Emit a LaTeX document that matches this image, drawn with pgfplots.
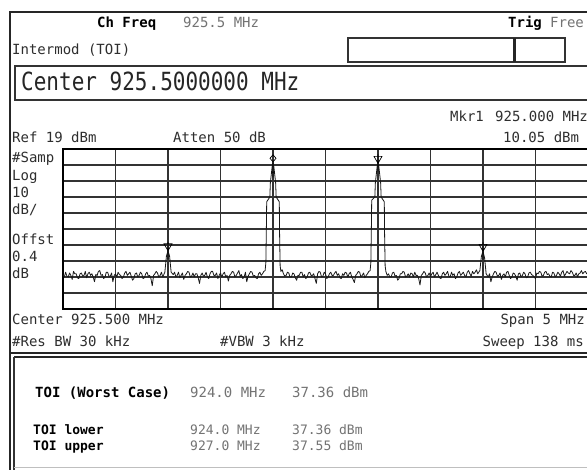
\documentclass[border=0pt]{standalone}
\usepackage{fontspec}
\setmainfont{DejaVu Sans Mono}
\newfontfamily\bigf[FakeStretch=0.84]{DejaVu Sans Mono}
\usepackage{pgfplots}
\pgfplotsset{compat=1.18}
\definecolor{txt}{gray}{0.18}
\definecolor{ltxt}{gray}{0.45}
\newcommand\sm{\fontsize{14}{16}\selectfont}
\newcommand\T[4][]{\node[anchor=base west,inner sep=0pt,font=\sm,text=txt,#1] at ({#2pt},{(465-#3)*1pt}) {#4};}
\newcommand\TR[4][]{\node[anchor=base east,inner sep=0pt,font=\sm,text=txt,#1] at ({#2pt},{(465-#3)*1pt}) {#4};}
\pgfdeclareplotmark{dmark}{%
 \pgfpathmoveto{\pgfqpoint{0pt}{8.5pt}}\pgfpathlineto{\pgfqpoint{3pt}{5pt}}%
 \pgfpathlineto{\pgfqpoint{0pt}{1.5pt}}\pgfpathlineto{\pgfqpoint{-3pt}{5pt}}\pgfpathclose
 \pgfpathmoveto{\pgfqpoint{0pt}{1.5pt}}\pgfpathlineto{\pgfqpoint{0pt}{-14pt}}%
 \pgfpathmoveto{\pgfqpoint{-1.5pt}{-9pt}}\pgfpathlineto{\pgfqpoint{1.5pt}{-9pt}}%
 \pgfusepathqstroke}
\pgfdeclareplotmark{vmark}{%
 \pgfpathmoveto{\pgfqpoint{-4pt}{7pt}}\pgfpathlineto{\pgfqpoint{4pt}{7pt}}%
 \pgfpathlineto{\pgfqpoint{0pt}{0pt}}\pgfpathclose
 \pgfpathmoveto{\pgfqpoint{0pt}{9pt}}\pgfpathlineto{\pgfqpoint{0pt}{-8pt}}%
 \pgfusepathqstroke}
\begin{document}
\begin{tikzpicture}
\useasboundingbox (0pt,0pt) rectangle (587pt,470pt);
\clip (0pt,0pt) rectangle (587pt,470pt);
\fill[white] (0pt,0pt) rectangle (587pt,470pt);
% frame lines
\draw[line width=2.5pt,black!85] (10pt,-2pt) -- (10pt,458pt) -- (600pt,458pt);
\draw[line width=1.5pt,black!80] (348pt,408pt) rectangle (565pt,432pt);
\draw[line width=3pt,black!85] (514pt,408pt) -- (514pt,432pt);
\draw[line width=2pt,black!80] (600pt,404pt) -- (15pt,404pt) -- (15pt,370pt) -- (600pt,370pt);
\draw[line width=1.6pt,black!85] (9pt,117pt) -- (600pt,117pt);
\draw[line width=1.6pt,black!85] (14pt,113pt) -- (600pt,113pt);
\draw[line width=2pt,black!80] (14pt,113pt) -- (14pt,-2pt);
\draw[line width=0.6pt,black!25] (14pt,3pt) -- (600pt,3pt);
% header texts
\T[font=\sm\bfseries,text=black]{97}{23}{Ch Freq}
\T[text=ltxt]{183}{23}{925.5 MHz}
\T[font=\sm\bfseries,text=black]{508}{23}{Trig}
\T[text=ltxt]{550}{23}{Free}
\T{12}{50}{Intermod (TOI)}
\node[anchor=base west,inner sep=0pt,font=\bigf\fontsize{25}{28}\selectfont,text=black!85] at (21pt,379pt) {Center 925.5000000 MHz};
\T{450}{117}{Mkr1}
\T{495}{117}{925.000 MHz}
\T{503}{138}{10.05 dBm}
\T{12}{138}{Ref 19 dBm}
\T{173}{138}{Atten 50 dB}
\T{12}{158}{\#Samp}
\T{12}{176}{Log}
\T{12}{193}{10}
\T{12}{210}{dB/}
\T{12}{240}{Offst}
\T{12}{257}{0.4}
\T{12}{274}{dB}
\T{12}{320}{Center 925.500 MHz}
\TR{585}{320}{Span 5 MHz}
\T{12}{342}{\#Res BW 30 kHz}
\T{220}{342}{\#VBW 3 kHz}
\TR{584}{342}{Sweep 138 ms}
\T[font=\sm\bfseries,text=black]{35}{393}{TOI (Worst Case)}
\T[text=ltxt]{190}{393}{924.0 MHz}
\T[text=ltxt]{292}{393}{37.36 dBm}
\T[font=\fontsize{13}{15}\selectfont\bfseries,text=black]{33}{430}{TOI lower}
\T[font=\fontsize{13}{15}\selectfont\bfseries,text=black]{33}{446}{TOI upper}
\T[font=\fontsize{13}{15}\selectfont,text=ltxt]{190}{430}{924.0 MHz}
\T[font=\fontsize{13}{15}\selectfont,text=ltxt]{190}{446}{927.0 MHz}
\T[font=\fontsize{13}{15}\selectfont,text=ltxt]{292}{430}{37.36 dBm}
\T[font=\fontsize{13}{15}\selectfont,text=ltxt]{292}{446}{37.55 dBm}
\begin{axis}[at={(63pt,161pt)}, anchor=south west, scale only axis,
  width=525pt, height=160pt,
  xmin=923, xmax=928, ymin=-81, ymax=19,
  xtick={923,923.5,924,924.5,925,925.5,926,926.5,927,927.5,928},
  ytick={-81,-71,-61,-51,-41,-31,-21,-11,-1,9,19},
  xticklabels={}, yticklabels={}, major tick length=0pt,
  grid=major, major grid style={black!80, line width=1.2pt},
  axis line style={black, line width=1.6pt}, clip=true]
\addplot[black!90, line width=0.8pt, line join=round] coordinates {
(923.0000,-59.5)(923.0125,-61)(923.0250,-58)(923.0375,-60.5)(923.0500,-61)(923.0625,-58.5)(923.0750,-60)(923.0875,-62.5)(923.1000,-57.5)(923.1125,-59)
(923.1250,-59)(923.1375,-61.5)(923.1500,-62)(923.1625,-59)(923.1750,-58.5)(923.1875,-60.5)(923.2000,-60)(923.2125,-57.5)(923.2250,-61.5)(923.2375,-59)
(923.2500,-58)(923.2625,-60)(923.2750,-59)(923.2875,-61)(923.3000,-64)(923.3125,-59.5)(923.3250,-60)(923.3375,-57.5)(923.3500,-57)(923.3625,-60)
(923.3750,-59.5)(923.3875,-62)(923.4000,-61)(923.4125,-58)(923.4250,-58)(923.4375,-60.5)(923.4500,-60.5)(923.4625,-58.5)(923.4750,-64)(923.4875,-60)
(923.5000,-59)(923.5125,-61)(923.5250,-58)(923.5375,-59.5)(923.5500,-60)(923.5625,-62)(923.5750,-61)(923.5875,-58.5)(923.6000,-57.5)(923.6125,-60)
(923.6250,-59)(923.6375,-58)(923.6500,-60.5)(923.6625,-63)(923.6750,-62)(923.6875,-59)(923.7000,-58.5)(923.7125,-61)(923.7250,-60)(923.7375,-58)
(923.7500,-59)(923.7625,-62)(923.7750,-61.5)(923.7875,-59)(923.8000,-58)(923.8125,-60.5)(923.8250,-60)(923.8375,-62)(923.8500,-66.5)(923.8625,-60)
(923.8750,-59)(923.8875,-57.5)(923.9000,-58.5)(923.9125,-61)(923.9250,-60)(923.9375,-58)(923.9500,-61)
(923.9700,-58)(923.9850,-48)(924.0000,-44.6)(924.0150,-48)(924.0300,-58)
(924.0500,-59.5)(924.0625,-58)(924.0750,-61)(924.0875,-60)(924.1000,-58)(924.1125,-61.5)(924.1250,-60)(924.1375,-58.5)(924.1500,-62.5)(924.1625,-60)
(924.1750,-59)(924.1875,-57.5)(924.2000,-58)(924.2125,-61)(924.2250,-60.5)(924.2375,-58.5)(924.2500,-61)(924.2625,-59)(924.2750,-59)(924.2875,-61.5)
(924.3000,-65)(924.3125,-60)(924.3250,-58.5)(924.3375,-60.5)(924.3500,-60)(924.3625,-58)(924.3750,-61)(924.3875,-62)(924.4000,-59)(924.4125,-57.5)
(924.4250,-57.5)(924.4375,-60)(924.4500,-60)(924.4625,-58.5)(924.4750,-62)(924.4875,-60)(924.5000,-58.5)(924.5125,-61)(924.5250,-59)(924.5375,-58)
(924.5500,-61)(924.5625,-60)(924.5750,-63.5)(924.5875,-60)(924.6000,-59)(924.6125,-57.5)(924.6250,-58)(924.6375,-61)(924.6500,-60)(924.6625,-58.5)
(924.6750,-57)(924.6875,-60.5)(924.7000,-59.5)(924.7125,-62)(924.7250,-61)(924.7375,-58)(924.7500,-64)(924.7625,-60.5)(924.7750,-59)(924.7875,-57.5)
(924.8000,-58)(924.8125,-60.5)(924.8250,-60)(924.8375,-61.5)(924.8500,-62)(924.8625,-59)(924.8750,-58)(924.8875,-60)(924.9000,-59)(924.9125,-57.5)
(924.9250,-57)
(924.932,-52)(924.937,-30)(924.940,-14)(924.970,-11)(924.975,-2)(924.992,8)(925.000,10.05)(925.008,8)(925.025,-2)(925.030,-11)(925.060,-14)(925.063,-35)(925.068,-54)
(925.0750,-57.5)(925.0875,-56.5)(925.1000,-59)(925.1125,-60.5)(925.1250,-60)(925.1375,-58)(925.1500,-58.5)(925.1625,-61)(925.1750,-61)(925.1875,-58.5)
(925.2000,-59)(925.2125,-61.5)(925.2250,-63)(925.2375,-60)(925.2500,-60)(925.2625,-58)(925.2750,-58)(925.2875,-61)(925.3000,-59.5)(925.3125,-62)
(925.3250,-61)(925.3375,-58.5)(925.3500,-58)(925.3625,-60)(925.3750,-60)(925.3875,-59)(925.4000,-62)(925.4125,-65)(925.4250,-59)(925.4375,-57.5)
(925.4500,-58)(925.4625,-61)(925.4750,-60.5)(925.4875,-58)(925.5000,-59)(925.5125,-62)(925.5250,-61)(925.5375,-59)(925.5500,-58)(925.5625,-60)
(925.5750,-60)(925.5875,-58.5)(925.6000,-57.5)(925.6125,-60)(925.6250,-59)(925.6375,-61.5)(925.6500,-62)(925.6625,-59)(925.6750,-60)(925.6875,-58)
(925.7000,-58.5)(925.7125,-61)(925.7250,-59)(925.7375,-58)(925.7500,-61)(925.7625,-62.5)(925.7750,-64.5)(925.7875,-60)(925.8000,-59)(925.8125,-57.5)
(925.8250,-58)(925.8375,-61)(925.8500,-60)(925.8625,-58.5)(925.8750,-61.5)(925.8875,-60)(925.9000,-59)(925.9125,-57.5)(925.9250,-57)
(925.932,-52)(925.937,-30)(925.940,-13)(925.970,-11)(925.975,-2)(925.992,8)(926.000,9.8)(926.008,8)(926.025,-2)(926.030,-11)(926.060,-14)(926.063,-35)(926.068,-54)
(926.0750,-57.5)(926.0875,-60)(926.1000,-59)(926.1125,-61)(926.1250,-61)(926.1375,-58.5)(926.1500,-58)(926.1625,-60.5)(926.1750,-60)(926.1875,-63)
(926.2000,-62)(926.2125,-59)(926.2250,-59)(926.2375,-57.5)(926.2500,-58)(926.2625,-61)(926.2750,-60.5)(926.2875,-59)(926.3000,-61)(926.3125,-58.5)
(926.3250,-59)(926.3375,-61)(926.3500,-58)(926.3625,-60)(926.3750,-60)(926.3875,-62)(926.4000,-66)(926.4125,-60)(926.4250,-59)(926.4375,-57.5)
(926.4500,-58.5)(926.4625,-61)(926.4750,-60)(926.4875,-58.5)(926.5000,-61)(926.5125,-59)(926.5250,-58)(926.5375,-61)(926.5500,-59.5)(926.5625,-58)
(926.5750,-60)(926.5875,-61.5)(926.6000,-62)(926.6125,-59)(926.6250,-58)(926.6375,-60)(926.6500,-59)(926.6625,-57.5)(926.6750,-60.5)(926.6875,-61)
(926.7000,-58)(926.7125,-60)(926.7250,-59)(926.7375,-62)(926.7500,-61)(926.7625,-58.5)(926.7750,-57.5)(926.7875,-60)(926.8000,-59)(926.8125,-58)
(926.8250,-60)(926.8375,-61)(926.8500,-58)(926.8625,-57)(926.8750,-59)(926.8875,-60.5)(926.9000,-57.5)(926.9125,-59)(926.9250,-58)(926.9375,-56.5)
(926.9500,-59)
(926.9700,-57)(926.9850,-48)(927.0000,-45)(927.0150,-49)(927.0300,-59)
(927.0500,-61)(927.0625,-59)(927.0750,-64)(927.0875,-61)(927.1000,-59)(927.1125,-57.5)(927.1250,-58)(927.1375,-60.5)(927.1500,-60)(927.1625,-58.5)
(927.1750,-62.5)(927.1875,-60)(927.2000,-59)(927.2125,-61)(927.2250,-58)(927.2375,-57.5)(927.2500,-60)(927.2625,-62)(927.2750,-61)(927.2875,-58.5)
(927.3000,-59)(927.3125,-60.5)(927.3250,-63)(927.3375,-59)(927.3500,-58.5)(927.3625,-61)(927.3750,-60)(927.3875,-58)(927.4000,-59)(927.4125,-61.5)
(927.4250,-61)(927.4375,-58.5)(927.4500,-58)(927.4625,-59.5)(927.4750,-60)(927.4875,-61)(927.5000,-62)(927.5125,-58.5)(927.5250,-59)(927.5375,-57.5)
(927.5500,-58)(927.5625,-60.5)(927.5750,-60)(927.5875,-58)(927.6000,-57.5)(927.6125,-59.5)(927.6250,-59)(927.6375,-60.5)(927.6500,-61)(927.6625,-58)
(927.6750,-58.5)(927.6875,-61)(927.7000,-60)(927.7125,-58)(927.7250,-59)(927.7375,-60.5)(927.7500,-58)(927.7625,-57)(927.7750,-60.5)(927.7875,-59)
(927.8000,-57.5)(927.8125,-58.5)(927.8250,-59)(927.8375,-57)(927.8500,-58)(927.8625,-60)(927.8750,-60)(927.8875,-58.5)(927.9000,-61)(927.9125,-59)
(927.9250,-58.5)(927.9375,-57)(927.9500,-59)(927.9625,-58)(927.9750,-57.5)(927.9875,-59)(928.0000,-58)
};
\addplot[only marks, mark=dmark, black, line width=0.7pt] coordinates {(925,10.05)};
\addplot[only marks, mark=vmark, black, line width=0.7pt] coordinates {(926,10) (924,-44.6) (927,-45)};
\end{axis}
\end{tikzpicture}
\end{document}
